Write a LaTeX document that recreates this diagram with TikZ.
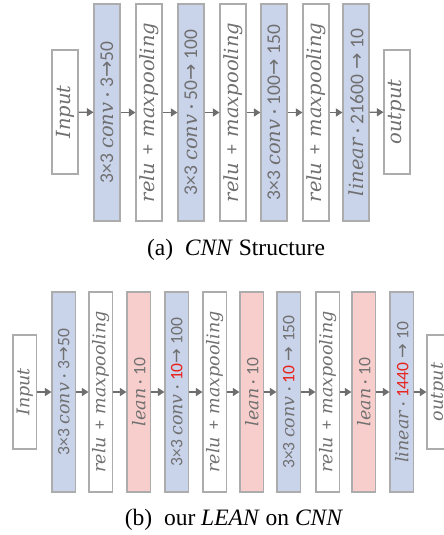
\documentclass[tikz,border=0pt]{standalone}
\usepackage{fontspec}
\setmainfont{Liberation Serif}
\newfontfamily\dfont{Carlito}
\newfontfamily\ifont{DejaVu Serif}
\newfontfamily\afont{DejaVu Sans}
\usetikzlibrary{arrows.meta}
\definecolor{boxblue}{RGB}{201,211,234}
\definecolor{boxpink}{RGB}{248,206,204}
\definecolor{bordergray}{RGB}{172,172,172}
\definecolor{textgray}{RGB}{112,112,112}
\definecolor{arrgray}{RGB}{110,110,110}
\definecolor{lnred}{RGB}{232,33,27}
\newcommand\tI[1]{{\ifont\itshape #1}}
\newcommand\tD[1]{{\dfont #1}}
\newcommand\tA{{\afont →}}
\newcommand\tR[1]{\textcolor{lnred}{\dfont #1}}
\newcommand\tP{\hspace{0.15em}\tD{+}\hspace{0.15em}}
\tikzset{
  blk/.style={draw=bordergray, line width=1.1pt, inner sep=0pt, text=textgray, fill=white},
  topfont/.style={font=\fontsize{19.5}{22}\selectfont},
  botfont/.style={font=\fontsize{17.5}{20}\selectfont},
  ttall/.style={blk, topfont, minimum width=26pt, minimum height=217pt},
  tshort/.style={blk, topfont, minimum width=26pt, minimum height=124pt},
  btall/.style={blk, botfont, minimum width=23.5pt, minimum height=200pt},
  bshort/.style={blk, botfont, minimum width=23.5pt, minimum height=114pt},
  convc/.style={fill=boxblue},
  leanc/.style={fill=boxpink},
  arr/.style={draw=arrgray, line width=1.3pt, -{Triangle[length=6.5pt,width=8pt]}},
  captext/.style={font=\fontsize{23.5}{28}\selectfont, inner sep=0pt}
}
\newcommand\rt[1]{\rotatebox{90}{#1}}
\begin{document}
\begin{tikzpicture}[x=1pt,y=-1pt]
\useasboundingbox (0,0) rectangle (444,535);
% ---------- (a) ----------
\node[tshort] (ain) at (65,112) {\rt{\tI{Input}}};
\node[ttall,convc] (a1) at (107,112.5) {\rt{\tD{3×3} \tI{conv} \tD{·} \tD{3}\tA\tD{50}}};
\node[ttall] (a2) at (149,112.5) {\rt{\tI{relu} \tP\ \tI{maxpooling}}};
\node[ttall,convc] (a3) at (191,112.5) {\rt{\tD{3×3} \tI{conv} \tD{· 50}\tA\ \tD{100}}};
\node[ttall] (a4) at (233,112.5) {\rt{\tI{relu} \tP\ \tI{maxpooling}}};
\node[ttall,convc] (a5) at (274,112.5) {\rt{\tD{3×3} \tI{conv} \tD{· 100}\tA\ \tD{150}}};
\node[ttall] (a6) at (316,112.5) {\rt{\tI{relu} \tP\ \tI{maxpooling}}};
\node[ttall,convc] (a7) at (356,112.5) {\rt{\tI{linear} \tD{· 21600} \tA\ \tD{10}}};
\node[tshort] (aout) at (397,112) {\rt{\tI{output}}};
\foreach \p/\q in {ain/a1,a1/a2,a2/a3,a3/a4,a4/a5,a5/a6,a6/a7,a7/aout}
  \draw[arr] (\p) -- (\q);
\node[captext] (capa) at (236,250) {(a)\hspace{0.5em}\textit{CNN} Structure};
% ---------- (b) ----------
\node[bshort] (bin) at (24.75,392) {\rt{\tI{Input}}};
\node[btall,convc] (b1) at (63.75,392) {\rt{\tD{3×3} \tI{conv} \tD{·} \tD{3}\tA\tD{50}}};
\node[btall] (b2) at (100.75,392) {\rt{\tI{relu} \tP\ \tI{maxpooling}}};
\node[btall,leanc] (b3) at (138.75,392) {\rt{\tI{lean} \tD{· 10}}};
\node[btall,convc] (b4) at (176.75,392) {\rt{\tD{3×3} \tI{conv} \tD{·} \tR{10}\tA\ \tD{100}}};
\node[btall] (b5) at (214.75,392) {\rt{\tI{relu} \tP\ \tI{maxpooling}}};
\node[btall,leanc] (b6) at (251.75,392) {\rt{\tI{lean} \tD{· 10}}};
\node[btall,convc] (b7) at (288.75,392) {\rt{\tD{3×3} \tI{conv} \tD{·} \tR{10} \tA\ \tD{150}}};
\node[btall] (b8) at (327.75,392) {\rt{\tI{relu} \tP\ \tI{maxpooling}}};
\node[btall,leanc] (b9) at (363.75,392) {\rt{\tI{lean} \tD{· 10}}};
\node[btall,convc] (b10) at (401.75,392) {\rt{\tI{linear} \tD{·} \tR{1440} \tA\ \tD{10}}};
\node[bshort] (bout) at (438.75,392) {\rt{\tI{output}}};
\foreach \p/\q in {bin/b1,b1/b2,b2/b3,b3/b4,b4/b5,b5/b6,b6/b7,b7/b8,b8/b9,b9/b10,b10/bout}
  \draw[arr] (\p) -- (\q);
\node[captext] (capb) at (234,520) {(b)\hspace{0.5em}our \textit{LEAN} on \textit{CNN}};
\end{tikzpicture}
\end{document}
